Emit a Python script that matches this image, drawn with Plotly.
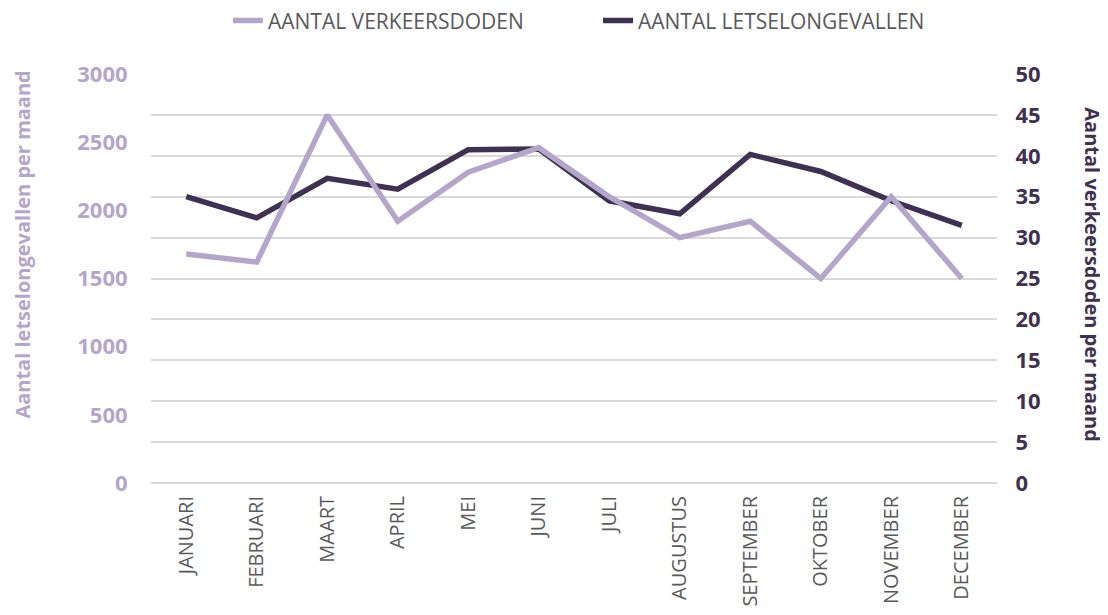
import plotly.graph_objects as go

maanden = ["JANUARI", "FEBRUARI", "MAART", "APRIL", "MEI", "JUNI", "JULI",
           "AUGUSTUS", "SEPTEMBER", "OKTOBER", "NOVEMBER", "DECEMBER"]
verkeersdoden = [28, 27, 45, 32, 38, 41, 35, 30, 32, 25, 35, 25]
letselongevallen = [2100, 1945, 2235, 2155, 2445, 2450, 2070, 1975, 2410, 2285, 2070, 1890]

LIGHT = "#b4a6cb"
DARK = "#3f3152"
GRID = "#d9d9d9"
TXT = "#595959"

fig = go.Figure()
fig.add_trace(go.Scatter(x=maanden, y=verkeersdoden, name="AANTAL VERKEERSDODEN",
                         mode="lines", line=dict(color=LIGHT, width=5.5), yaxis="y2"))
fig.add_trace(go.Scatter(x=maanden, y=letselongevallen, name="AANTAL LETSELONGEVALLEN",
                         mode="lines", line=dict(color=DARK, width=5.5), yaxis="y"))

fig.update_layout(
    width=1108, height=615,
    margin=dict(l=143, r=119, t=66, b=140, autoexpand=False),
    paper_bgcolor="white", plot_bgcolor="white",
    showlegend=True,
    legend=dict(orientation="h", x=0.091, xanchor="left", y=0.979, yanchor="middle",
                yref="container", font=dict(family="Open Sans", size=21, color=TXT),
                entrywidth=325, itemwidth=30),
    xaxis=dict(type="category", range=[-0.5, 11.5], tickangle=-90, automargin=False,
               tickfont=dict(family="Open Sans", size=20, color=TXT),
               showgrid=False, zeroline=False, showline=False,
               ticks="outside", ticklen=4, tickcolor="rgba(0,0,0,0)"),
    yaxis=dict(range=[0, 3000], dtick=500, showgrid=False, zeroline=False, automargin=False,
               tickfont=dict(family="Open Sans", size=22, color=LIGHT, weight="bold"),
               ticks="outside", ticklen=18, tickcolor="rgba(0,0,0,0)"),
    yaxis2=dict(range=[0, 50], dtick=5, overlaying="y", side="right", automargin=False,
                showgrid=True, gridcolor=GRID, gridwidth=1.5,
                zeroline=True, zerolinecolor=GRID, zerolinewidth=1.5,
                tickfont=dict(family="Open Sans", size=22, color=DARK, weight="bold"),
                ticks="outside", ticklen=13, tickcolor="rgba(0,0,0,0)"),
    annotations=[
        dict(text="Aantal letselongevallen per maand", xref="paper", yref="paper",
             x=-0.1524, y=0.583, xanchor="center", yanchor="middle",
             textangle=-90, showarrow=False,
             font=dict(family="Open Sans", size=20, color=LIGHT, weight="bold")),
        dict(text="Aantal verkeersdoden per maand", xref="paper", yref="paper",
             x=1.1129, y=0.509, xanchor="center", yanchor="middle",
             textangle=90, showarrow=False,
             font=dict(family="Open Sans", size=20, color=DARK, weight="bold")),
    ],
)

fig.write_html("out.html")
